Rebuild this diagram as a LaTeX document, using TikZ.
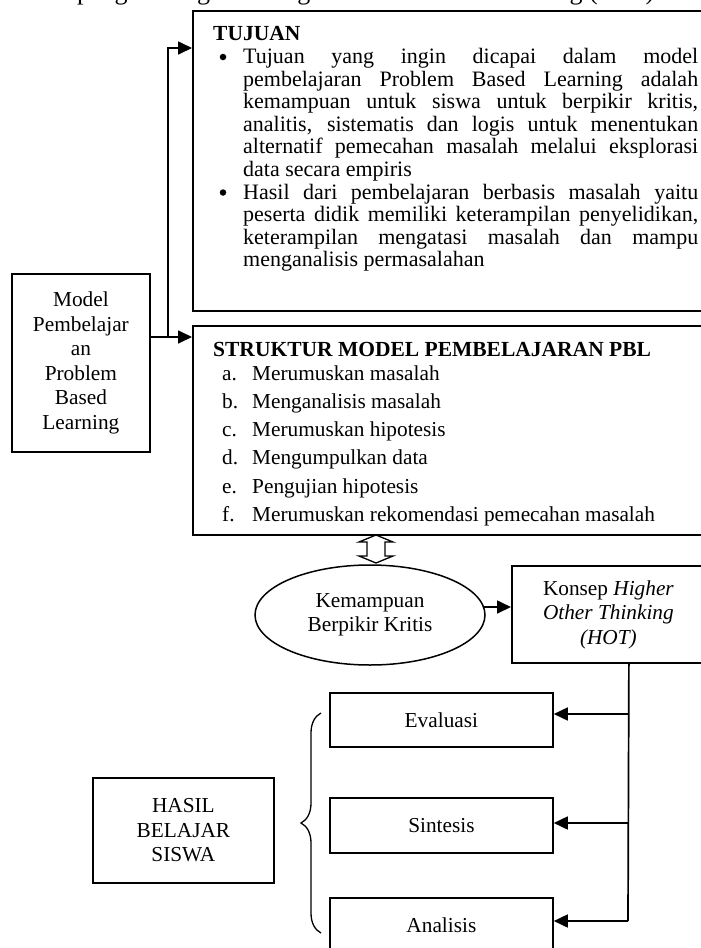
\documentclass[tikz,border=0pt]{standalone}
\usepackage{fontspec}
\setmainfont{Liberation Serif}
\usetikzlibrary{arrows.meta,shapes.geometric,decorations.pathreplacing,calc}
\tolerance=10000 \hbadness=10000
\begin{document}
\begin{tikzpicture}[x=1pt,y=-1pt,
  box/.style={draw, line width=1.8pt, inner sep=0pt, anchor=north west},
  txt/.style={font=\fontsize{21.3}{24.5}\selectfont, align=center},
  conn/.style={line width=1.7pt},
  arr/.style={line width=1.7pt, -{Triangle[length=14pt,width=13pt]}},
  para/.style={text width=455pt, align=justify, inner sep=0pt, anchor=north west,
    font=\fontsize{22}{22.6}\selectfont},
  lbl/.style={inner sep=0pt, anchor=base west, font=\fontsize{21.3}{24}\selectfont},
  ttl/.style={inner sep=0pt, anchor=base west, font=\bfseries\fontsize{21.5}{24}\selectfont},
  bul/.style={circle, fill, inner sep=0pt, minimum size=6.5pt},
]
\useasboundingbox (0,0) rectangle (701,948);

% caption line at the top, cut off by the page edge
\node[inner sep=0pt, anchor=base west, font=\fontsize{26}{26}\selectfont] (cap) at (77,-1)
  {pengembangan strategi Problem Based Learning (PBL)};

% boxes
\node[box, minimum width=530pt, minimum height=300pt] (tujuan) at (192,10) {};
\node[box, minimum width=530pt, minimum height=209pt] (struktur) at (192,325) {};
\node[box, txt, minimum width=138pt, minimum height=178pt] (model) at (11,273)
  {Model\\Pembelajar\\an\\Problem\\Based\\Learning};
\node[draw, ellipse, line width=1.5pt, inner sep=0pt, minimum width=230pt, minimum height=100pt, txt]
  (kbk) at (370,615) {Kemampuan\\Berpikir Kritis};
\node[box, txt, minimum width=193pt, minimum height=97pt] (hot) at (511,565)
  {Konsep \textit{Higher}\\\textit{Other Thinking}\\\textit{(HOT)}};
\node[box, txt, minimum width=223pt, minimum height=54pt] (eval) at (329,692) {Evaluasi};
\node[box, txt, minimum width=223pt, minimum height=55pt] (sint) at (329,797) {Sintesis};
\node[box, txt, minimum width=223pt, minimum height=55pt] (anal) at (329,897) {Analisis};
\node[box, txt, minimum width=181pt, minimum height=105pt] (hasil) at (92,777)
  {HASIL\\BELAJAR\\SISWA};

% TUJUAN content
\node[ttl] (tjt) at (213,40) {TUJUAN};
\node[bul] (b1) at (223,57) {};
\node[bul] (b2) at (223,192.5) {};
\node[para] (p1) at (243,48)
  {Tujuan yang ingin dicapai dalam model\linebreak
   pembelajaran Problem Based Learning adalah\linebreak
   kemampuan untuk siswa untuk berpikir kritis,\linebreak
   analitis, sistematis dan logis untuk menentukan\linebreak
   alternatif pemecahan masalah melalui eksplorasi\linebreak
   data secara empiris};
\node[para] (p2) at (243,183.6)
  {Hasil dari pembelajaran berbasis masalah yaitu\linebreak
   peserta didik memiliki keterampilan penyelidikan,\linebreak
   keterampilan mengatasi masalah dan mampu\linebreak
   menganalisis permasalahan};

% STRUKTUR content
\node[ttl] (st) at (213,356) {STRUKTUR MODEL PEMBELAJARAN PBL};
\node[lbl] (la) at (222,380) {a.};   \node[lbl] (ta) at (252,380) {Merumuskan masalah};
\node[lbl] (lb) at (222,408.3) {b.}; \node[lbl] (tb) at (252,408.3) {Menganalisis masalah};
\node[lbl] (lc) at (222,436.6) {c.}; \node[lbl] (tc) at (252,436.6) {Merumuskan hipotesis};
\node[lbl] (ld) at (222,464.9) {d.}; \node[lbl] (td) at (252,464.9) {Mengumpulkan data};
\node[lbl] (le) at (222,493.2) {e.}; \node[lbl] (te) at (252,493.2) {Pengujian hipotesis};
\node[lbl] (lf) at (222,521.5) {f.}; \node[lbl] (tf) at (252,521.5) {Merumuskan rekomendasi pemecahan masalah};

% connectors from the model box
\coordinate (j1) at (168,337);
\coordinate (tin) at ($(tujuan.north west)+(0,38)$);
\draw[arr] (model.east |- j1) -- (struktur.west |- j1);
\draw[arr] (j1) |- (tin);

% hollow double arrow between STRUKTUR and the ellipse
\draw[line width=1.3pt, line join=miter]
  (376,535) -- (393,542) -- (385,542) -- (385,556) -- (393,556) -- (376,563)
  -- (359,556) -- (367,556) -- (367,542) -- (359,542) -- cycle;

% ellipse to HOT
\draw[arr] (kbk.4) -- (hot.west |- kbk.4);

% HOT down to the three result boxes
\coordinate (vt) at ($(hot.south)+(20.5,0)$);
\coordinate (vE) at (628,714);
\coordinate (vS) at (628,823);
\coordinate (vA) at (628,921);
\draw[conn] (vt) -- (vA);
\draw[arr] (vE) -- (eval.east |- vE);
\draw[arr] (vS) -- (sint.east |- vS);
\draw[arr] (vA) -- (anal.east |- vA);

% brace
\coordinate (br1) at (321,933);
\coordinate (br2) at (321,713);
\draw[line width=1.3pt, decorate, decoration={brace, amplitude=20pt}] (br1) -- (br2);
\end{tikzpicture}
\end{document}
